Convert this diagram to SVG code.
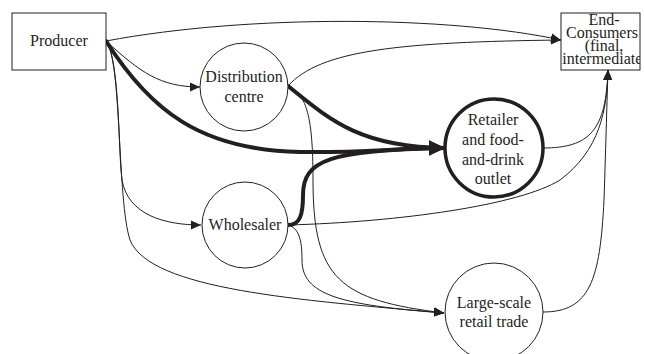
<svg xmlns="http://www.w3.org/2000/svg" width="645" height="354" viewBox="0 0 645 354">
<style>
text{font-family:"Liberation Serif","Times New Roman",serif;font-size:16px;fill:#231f20;text-anchor:middle}
.box{fill:#fff;stroke:#231f20;stroke-width:1}
.node{fill:#fff;stroke:#231f20;stroke-width:1}
.bold{fill:#fff;stroke:#231f20;stroke-width:3.5}
.thin{fill:none;stroke:#231f20;stroke-width:1}
.thick{fill:none;stroke:#231f20;stroke-width:4;stroke-linecap:round}
</style>
<defs>
<marker id="a" markerUnits="userSpaceOnUse" markerWidth="12" markerHeight="10" refX="10" refY="5" orient="auto"><path d="M0,0.5 L10,5 L0,9.5 Z" fill="#231f20"/></marker>
<marker id="A" markerUnits="userSpaceOnUse" markerWidth="18" markerHeight="16" refX="16" refY="8" orient="auto"><path d="M0,0.5 L16,8 L0,15.5 Z" fill="#231f20"/></marker>
<clipPath id="ec"><rect x="561" y="13" width="79" height="57"/></clipPath>
</defs>
<rect width="645" height="354" fill="#fff"/>
<g id="connectors">
<path class="thin" d="M106,41 C250,14 450,16 561,40" marker-end="url(#a)"/>
<path class="thin" d="M288,86 C320,50 400,42 561,40" marker-end="url(#a)"/>
<path class="thin" d="M106,41 C140,72 160,87 200,87" marker-end="url(#a)"/>
<path class="thin" d="M106,41 C120,60 118,150 122,180 C128,215 165,225 201,225" marker-end="url(#a)"/>
<path class="thin" d="M106,41 C122,60 117,200 130,240 C150,290 300,300 444,313" marker-end="url(#a)"/>
<path class="thin" d="M288,86 C305,95 313,110 313,180 C313,280 340,300 444,313" marker-end="url(#a)"/>
<path class="thin" d="M288,225 C299,228 302,240 302,260 C302,295 340,305 444,313" marker-end="url(#a)"/>
<path class="thin" d="M288,225 C400,222 520,205 560,180 C600,150 607,110 608,70" marker-end="url(#a)"/>
<path class="thin" d="M543,148 C590,148 606,130 608,70" marker-end="url(#a)"/>
<path class="thin" d="M543,312 C590,312 600,280 604,200 C606,140 607,100 608,70" marker-end="url(#a)"/>
<path class="thick" d="M106,41 C150,110 200,150 300,152 C360,153 400,148 445,148" marker-end="url(#A)"/>
<path class="thick" d="M288,86 C330,120 360,147 445,148" marker-end="url(#A)"/>
<path class="thick" d="M288,225 C300,225 303,215 303,195 C303,160 330,150 445,148" marker-end="url(#A)"/>
</g>
<g id="producer">
<rect class="box" x="12" y="13" width="94" height="57"/>
<text x="59" y="46">Producer</text>
</g>
<g id="end-consumers">
<rect class="box" x="561" y="13" width="79" height="57"/>
<g clip-path="url(#ec)">
<text x="604" y="25">End-</text>
<text x="602" y="38">Consumers</text>
<text x="604" y="51">(final,</text>
<text x="605" y="64">intermediate)</text>
</g>
</g>
<g id="distribution-centre">
<circle class="node" cx="244" cy="87" r="44"/>
<text x="244" y="82">Distribution</text>
<text x="244" y="102">centre</text>
</g>
<g id="retailer">
<circle class="bold" cx="494" cy="148" r="49"/>
<text x="493" y="125">Retailer</text>
<text x="493" y="145">and food-</text>
<text x="493" y="165">and-drink</text>
<text x="493" y="184">outlet</text>
</g>
<g id="wholesaler">
<circle class="node" cx="245" cy="225" r="43"/>
<text x="245" y="230">Wholesaler</text>
</g>
<g id="large-scale">
<circle class="node" cx="494" cy="312" r="49"/>
<text x="494" y="308">Large-scale</text>
<text x="494" y="327">retail trade</text>
</g>
</svg>
